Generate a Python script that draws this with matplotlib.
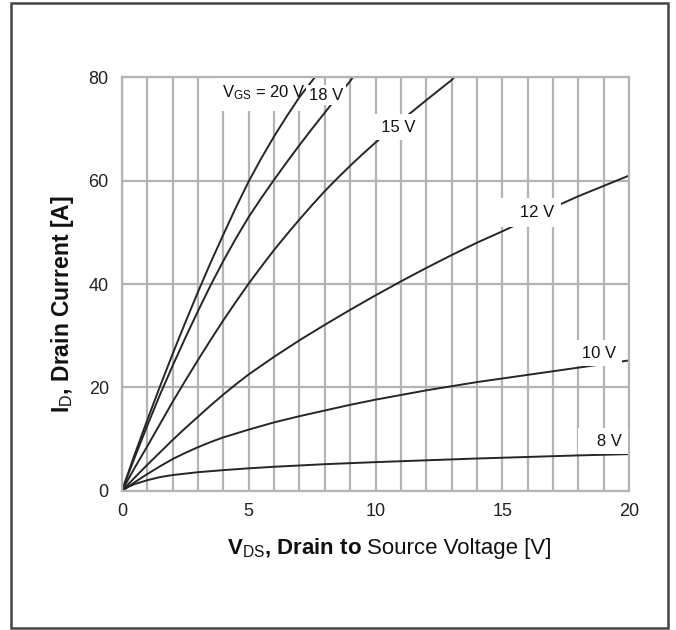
import matplotlib
matplotlib.use('Agg')
from matplotlib import pyplot
from matplotlib.patches import Rectangle

# Output characteristics (VDS [V], ID [A]) per VGS.
vds_20 = [0, 0.5, 1.0, 1.5, 2.0, 2.5, 3.0, 3.5, 4.0, 4.5, 5.0, 5.5, 6.0, 6.5, 7.0, 7.6]
id_20 = [0, 7.0, 13.7, 20.2, 26.5, 32.6, 38.5, 44.2, 49.6, 54.9, 59.9, 64.4, 68.6, 72.5, 76.2, 80.0]

vds_18 = [0, 0.5, 1.0, 1.5, 2.0, 2.5, 3.0, 3.5, 4.0, 4.5, 5.0, 5.5, 6.0, 6.5, 7.0, 7.5, 8.0, 8.5, 9.0, 9.1]
id_18 = [0, 6.4, 12.6, 18.6, 24.2, 29.6, 34.8, 39.8, 44.5, 48.9, 53.0, 56.7, 60.2, 63.6,
         66.9, 70.1, 73.2, 76.3, 79.3, 80.0]

vds_15 = [0, 0.5, 1.0, 1.5, 2.0, 2.5, 3.0, 3.5, 4.0, 4.5, 5.0, 5.5, 6.0, 6.5, 7.0, 7.5,
          8.0, 8.5, 9.0, 9.5, 10.0, 11.0, 12.0, 13.0, 13.1]
id_15 = [0, 4.4, 8.6, 12.9, 17.2, 21.3, 25.3, 29.2, 33.0, 36.6, 40.1, 43.4, 46.6, 49.6, 52.5,
         55.3, 58.0, 60.5, 62.9, 65.2, 67.4, 71.6, 75.6, 79.5, 80.0]

vds_12 = [0, 0.5, 1.0, 1.5, 2.0, 2.5, 3.0, 3.5, 4.0, 4.5, 5.0, 6, 7, 8, 9, 10, 11, 12, 13,
          14, 15, 16, 17, 18, 19, 20]
id_12 = [0, 2.5, 5.0, 7.4, 9.8, 12.1, 14.3, 16.5, 18.6, 20.6, 22.5, 25.9, 29.1, 32.1, 35.0,
         37.8, 40.5, 43.1, 45.6, 48.0, 50.2, 52.5, 54.8, 57.0, 59.0, 61.0]

vds_10 = [0, 0.5, 1.0, 1.5, 2.0, 2.5, 3.0, 3.5, 4, 5, 6, 7, 8, 9, 10, 11, 12, 13, 14, 15,
          16, 17, 18, 19, 20]
id_10 = [0, 1.6, 3.2, 4.7, 6.1, 7.3, 8.4, 9.4, 10.3, 11.8, 13.2, 14.4, 15.5, 16.6, 17.6,
         18.5, 19.4, 20.2, 21.0, 21.7, 22.4, 23.1, 23.8, 24.5, 25.2]

vds_8 = [0, 0.25, 0.5, 1.0, 1.5, 2, 3, 4, 5, 6, 7, 8, 10, 12, 14, 16, 18, 20]
id_8 = [0, 0.7, 1.25, 2.0, 2.6, 3.0, 3.55, 3.95, 4.3, 4.6, 4.85, 5.1, 5.5, 5.85, 6.2, 6.5,
        6.8, 7.05]

curves = [(vds_20, id_20), (vds_18, id_18), (vds_15, id_15),
          (vds_12, id_12), (vds_10, id_10), (vds_8, id_8)]

# Curve labels: (text, x, y, zorder, box pad); leading spaces widen the white patch
labels = [('$\\mathregular{V_{GS}}$ = 20 V', 3.95, 77.0, 1.5, 6),
          ('18 V', 7.38, 76.6, 3, 2),
          ('  15 V', 9.85, 70.4, 3, 4),
          ('   12 V', 15.15, 53.8, 3, 5),
          ('   10 V', 17.6, 26.6, 3, 4),
          ('   8 V', 18.2, 9.5, 3, 4)]

FONT = ['Liberation Sans', 'DejaVu Sans']


def Run():
  pyplot.rcParams['font.family'] = FONT
  pyplot.rcParams['mathtext.fontset'] = 'custom'
  pyplot.rcParams['mathtext.rm'] = 'Liberation Sans'
  pyplot.rcParams['mathtext.bf'] = 'Liberation Sans:bold'

  fig = pyplot.figure(figsize=(6.76, 6.30), dpi=100)
  fig.patches.append(Rectangle((0.0163, 0.0032), 0.9717, 0.992, transform=fig.transFigure,
                               fill=False, edgecolor='#444444', linewidth=1.8))

  ax = fig.add_axes([0.1805, 0.2214, 0.75, 0.6556])
  ax.set_xlim(0, 20)
  ax.set_ylim(0, 80)
  ax.set_xticks([0, 5, 10, 15, 20])
  ax.set_xticks(range(0, 21), minor=True)
  ax.set_yticks([0, 20, 40, 60, 80])
  ax.tick_params(which='both', length=0, labelsize=13, colors='#222222')
  ax.tick_params(axis='x', pad=9)
  ax.tick_params(axis='y', pad=9.5)
  ax.grid(which='both', axis='x', color='#b4b4b4', linewidth=1.6)
  ax.grid(which='major', axis='y', color='#b4b4b4', linewidth=1.6)
  for s in ax.spines.values():
    s.set_color('#b4b4b4')
    s.set_linewidth(1.6)
  ax.set_axisbelow(True)

  for v, i in curves:
    ax.plot(v, i, '-', color='#262626', linewidth=1.4, solid_capstyle='butt', zorder=2)

  for text, x, y, z, pad in labels:
    ax.text(x, y, text, fontsize=12, ha='left', va='center', color='#111111', zorder=z,
            bbox=dict(facecolor='white', edgecolor='none', pad=pad))

  # x label: bold head and regular tail, joined on a common baseline
  fig.text(0.5355, 0.1206, '$\\mathbf{V}_{\\mathrm{DS}}$, Drain to', fontsize=16,
           fontweight='bold', ha='right', va='baseline', color='#111111')
  fig.text(0.5435, 0.1206, 'Source Voltage [V]', fontsize=16,
           ha='left', va='baseline', color='#111111')
  fig.text(0.0926, 0.5175, '$\\mathbf{I}_{\\mathrm{D}}$, Drain Current [A]', fontsize=16.5,
           fontweight='bold', ha='center', va='center', rotation=90, color='#111111')

  fig.savefig('out.png', dpi=100)


if __name__ == '__main__':
  Run()
